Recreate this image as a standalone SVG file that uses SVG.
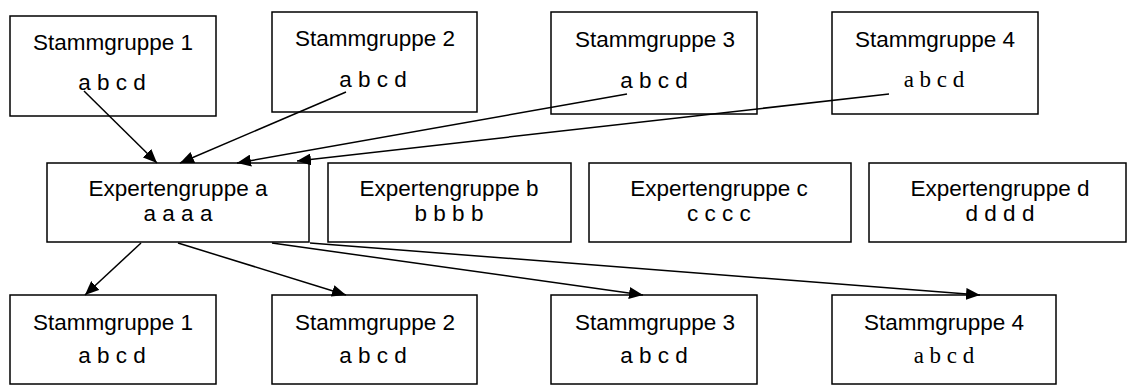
<svg xmlns="http://www.w3.org/2000/svg" width="1130" height="386" viewBox="0 0 1130 386">
  <style>
    .box { fill: #ffffff; stroke: #000000; stroke-width: 1.5; }
    .lbl { font-family: "Liberation Sans", Arial, sans-serif; font-size: 22.5px; fill: #000000; text-anchor: middle; }
    .serif { font-family: "Liberation Serif", "Times New Roman", serif; font-size: 23px; fill: #000000; text-anchor: middle; }
    .edge { fill: none; stroke: #000000; stroke-width: 1.5; marker-end: url(#arrow); }
  </style>
  <defs>
    <marker id="arrow" markerUnits="userSpaceOnUse" markerWidth="15" markerHeight="12" refX="14" refY="6" orient="auto">
      <path d="M0,0 L14,6 L0,12 Z" fill="#000000"/>
    </marker>
  </defs>
  <rect width="1130" height="386" fill="#ffffff"/>

  <!-- home groups, phase 1 -->
  <g id="stamm1-top">
    <rect class="box" x="10" y="16" width="206" height="100"/>
    <text class="lbl" x="113" y="50">Stammgruppe 1</text>
    <text class="lbl" x="112" y="90">a b c d</text>
  </g>
  <g id="stamm2-top">
    <rect class="box" x="272" y="12" width="205" height="100"/>
    <text class="lbl" x="375" y="46">Stammgruppe 2</text>
    <text class="lbl" x="373" y="87">a b c d</text>
  </g>
  <g id="stamm3-top">
    <rect class="box" x="551" y="12" width="206" height="102"/>
    <text class="lbl" x="655" y="47">Stammgruppe 3</text>
    <text class="lbl" x="654" y="88">a b c d</text>
  </g>
  <g id="stamm4-top">
    <rect class="box" x="832" y="12" width="206" height="102"/>
    <text class="lbl" x="935" y="47">Stammgruppe 4</text>
    <text class="serif" x="934" y="87">a b c d</text>
  </g>

  <!-- expert groups -->
  <g id="expert-a">
    <rect class="box" x="47" y="163" width="262" height="79"/>
    <text class="lbl" x="178" y="196">Expertengruppe a</text>
    <text class="lbl" x="178" y="221">a a a a</text>
  </g>
  <g id="expert-b">
    <rect class="box" x="328" y="163" width="243" height="79"/>
    <text class="lbl" x="449" y="196">Expertengruppe b</text>
    <text class="lbl" x="449" y="221">b b b b</text>
  </g>
  <g id="expert-c">
    <rect class="box" x="589" y="163" width="262" height="79"/>
    <text class="lbl" x="719" y="196">Expertengruppe c</text>
    <text class="lbl" x="719" y="221">c c c c</text>
  </g>
  <g id="expert-d">
    <rect class="box" x="869" y="163" width="257" height="79"/>
    <text class="lbl" x="1000" y="196">Expertengruppe d</text>
    <text class="lbl" x="1000" y="221">d d d d</text>
  </g>

  <!-- home groups, phase 3 -->
  <g id="stamm1-bottom">
    <rect class="box" x="10" y="295" width="206" height="89"/>
    <text class="lbl" x="113" y="330">Stammgruppe 1</text>
    <text class="lbl" x="112" y="363">a b c d</text>
  </g>
  <g id="stamm2-bottom">
    <rect class="box" x="272" y="295" width="205" height="89"/>
    <text class="lbl" x="375" y="330">Stammgruppe 2</text>
    <text class="lbl" x="373" y="363">a b c d</text>
  </g>
  <g id="stamm3-bottom">
    <rect class="box" x="551" y="295" width="206" height="89"/>
    <text class="lbl" x="655" y="330">Stammgruppe 3</text>
    <text class="lbl" x="654" y="363">a b c d</text>
  </g>
  <g id="stamm4-bottom">
    <rect class="box" x="832" y="295" width="224" height="89"/>
    <text class="lbl" x="944" y="330">Stammgruppe 4</text>
    <text class="serif" x="944" y="363">a b c d</text>
  </g>

  <!-- connectors -->
  <g id="connectors">
    <line class="edge" x1="84" y1="91" x2="157" y2="163"/>
    <line class="edge" x1="346" y1="92" x2="180" y2="163"/>
    <line class="edge" x1="627" y1="94" x2="237" y2="163"/>
    <line class="edge" x1="889" y1="94" x2="297" y2="161"/>
    <line class="edge" x1="141" y1="243" x2="85" y2="295"/>
    <line class="edge" x1="178" y1="243" x2="346" y2="295"/>
    <line class="edge" x1="272" y1="243" x2="643" y2="295"/>
    <line class="edge" x1="310" y1="243" x2="980" y2="295"/>
  </g>
</svg>
